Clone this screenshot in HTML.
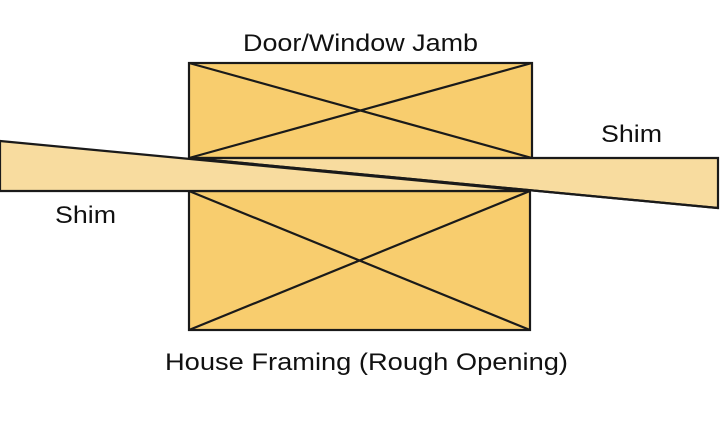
<!DOCTYPE html>
<html><head><style>body{margin:0;background:#fff}</style></head><body>
<svg width="720" height="436" xmlns="http://www.w3.org/2000/svg" style="display:block">
<g stroke="#1a1a1a" stroke-width="2.2" fill="#f8cd6e">
<rect x="189" y="63" width="343" height="95"/>
<line x1="189" y1="63" x2="532" y2="158"/><line x1="532" y1="63" x2="189" y2="158"/>
<rect x="189" y="191" width="341" height="139"/>
<line x1="189" y1="191" x2="530" y2="330"/><line x1="530" y1="191" x2="189" y2="330"/>
<polygon points="190,158 718,158 718,208" fill="#f8dc9f"/>
<polygon points="0,141 528,191 0,191" fill="#f8dc9f"/>
<line x1="190" y1="158" x2="718" y2="208"/>
</g>
<g font-family="Liberation Sans, sans-serif" font-size="24" fill="#111" lengthAdjust="spacingAndGlyphs">
<text x="243" y="51" textLength="235" lengthAdjust="spacingAndGlyphs">Door/Window Jamb</text>
<text x="601" y="142" textLength="61" lengthAdjust="spacingAndGlyphs">Shim</text>
<text x="55" y="223" textLength="61" lengthAdjust="spacingAndGlyphs">Shim</text>
<text x="165" y="370" textLength="403" lengthAdjust="spacingAndGlyphs">House Framing (Rough Opening)</text>
</g>
</svg>
</body></html>
